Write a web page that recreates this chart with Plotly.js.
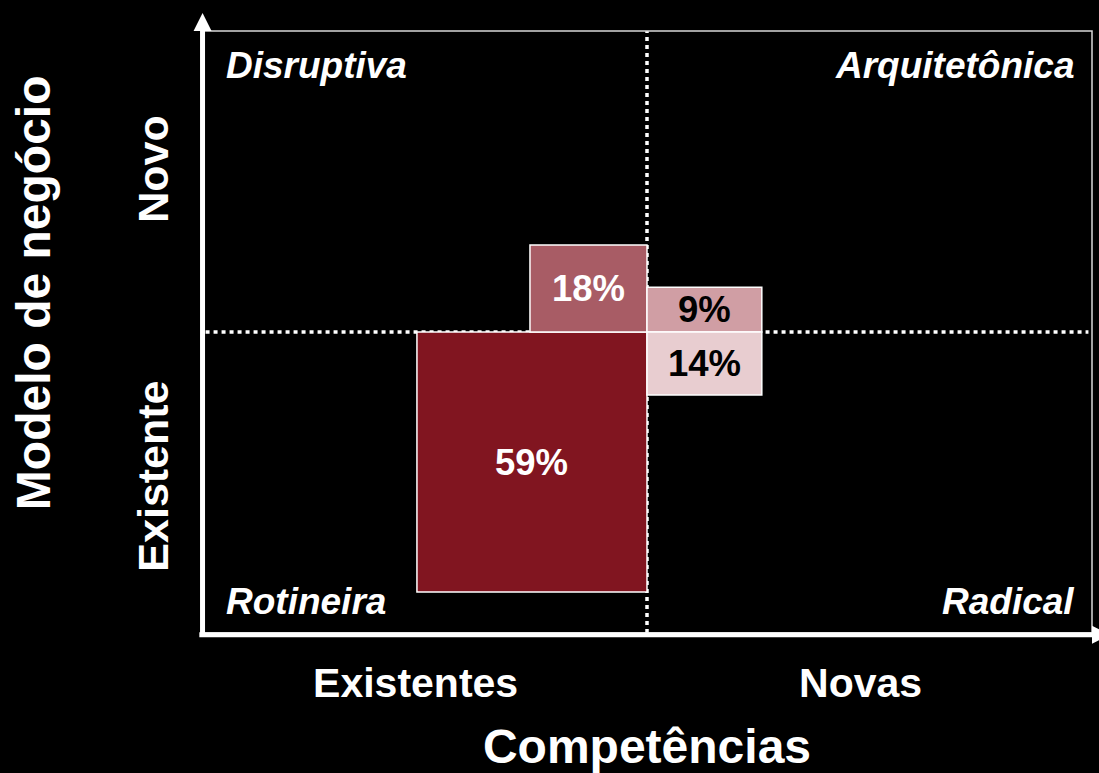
<!DOCTYPE html>
<html>
<head>
<meta charset="utf-8">
<script src="https://cdn.plot.ly/plotly-3.0.1.min.js"></script>
<style>html,body{margin:0;padding:0;background:#000;}#chart{width:1099px;height:773px;}</style>
</head>
<body>
<div id="chart"></div>
<script>
// ---- data ----
const xCategories = ['Existentes', 'Novas'];
const xCategoryPos = [0.48, 1.48];
const yCategories = ['Existente', 'Novo'];
const yCategoryPos = [0.5, 1.52];
const xTitle = 'Competências';
const yTitle = 'Modelo de negócio';
const quadrantLabels = ['Disruptiva', 'Arquitetônica', 'Rotineira', 'Radical'];
const shareLabels = ['59%', '18%', '9%', '14%'];
const boxX0 = [0.483, 0.737, 1.0, 1.0];
const boxX1 = [1.0, 1.0, 1.258, 1.258];
const boxY0 = [0.136, 1.0, 1.0, 0.791];
const boxY1 = [1.0, 1.289, 1.149, 1.0];
const boxColors = ['#811520', '#a85c65', '#d09ea4', '#e8cdd0'];
const textColors = ['#ffffff', '#ffffff', '#000000', '#000000'];

const FONT = '"Liberation Sans", Arial, sans-serif';
const shapes = [];
// dotted quadrant dividers
shapes.push({type: 'line', xref: 'x', yref: 'paper', x0: 1, x1: 1, y0: 0, y1: 1,
  line: {color: '#ffffff', width: 3.5, dash: '4px,4px'}});
shapes.push({type: 'line', xref: 'paper', yref: 'y', x0: 0.004, x1: 0.996, y0: 1, y1: 1,
  line: {color: '#ffffff', width: 3.5, dash: '4px,4px'}});
// boxes
for (let i = 0; i < shareLabels.length; i++) {
  shapes.push({type: 'rect', xref: 'x', yref: 'y', x0: boxX0[i], x1: boxX1[i], y0: boxY0[i], y1: boxY1[i],
    fillcolor: boxColors[i], line: {color: '#ffffff', width: 1.5}});
}
// plot frame (thin)
shapes.push({type: 'rect', xref: 'paper', yref: 'paper', x0: 0, x1: 1, y0: 0, y1: 1,
  line: {color: '#d8d8d8', width: 1.5}});
// thick axes
shapes.push({type: 'line', xref: 'paper', yref: 'paper', x0: -0.003, x1: 1.001, y0: -0.003, y1: -0.003,
  line: {color: '#ffffff', width: 5}});
shapes.push({type: 'line', xref: 'paper', yref: 'paper', x0: 0.0006, x1: 0.0006, y0: -0.006, y1: 1.0,
  line: {color: '#ffffff', width: 5}});
// arrowheads
shapes.push({type: 'path', xref: 'paper', yref: 'paper', xsizemode: 'pixel', ysizemode: 'pixel',
  xanchor: 1.0, yanchor: -0.003, path: 'M0,-9 L0,9 L18,0 Z', fillcolor: '#ffffff', line: {width: 0}});
shapes.push({type: 'path', xref: 'paper', yref: 'paper', xsizemode: 'pixel', ysizemode: 'pixel',
  xanchor: 0.0006, yanchor: 1.0, path: 'M-9,0 L9,0 L0,18 Z', fillcolor: '#ffffff', line: {width: 0}});

const annotations = [];
for (let i = 0; i < shareLabels.length; i++) {
  annotations.push({x: (boxX0[i] + boxX1[i]) / 2, y: (boxY0[i] + boxY1[i]) / 2, xref: 'x', yref: 'y',
    text: shareLabels[i], showarrow: false,
    font: {family: FONT, size: 36.5, color: textColors[i], weight: 'bold'}});
}
const qPos = [[0.025, 0.942, 'left'], [0.982, 0.942, 'right'], [0.025, 0.053, 'left'], [0.982, 0.053, 'right']];
for (let i = 0; i < quadrantLabels.length; i++) {
  annotations.push({x: qPos[i][0], y: qPos[i][1], xref: 'paper', yref: 'paper', xanchor: qPos[i][2], yanchor: 'middle',
    text: quadrantLabels[i], showarrow: false,
    font: {family: FONT, size: 37, color: '#ffffff', weight: 'bold', style: 'italic'}});
}
// y-axis title (placed above axis centre, as in the original)
annotations.push({x: -0.19, y: 0.566, xref: 'paper', yref: 'paper', xanchor: 'center', yanchor: 'middle',
  text: yTitle, textangle: -90, showarrow: false,
  font: {family: FONT, size: 48, color: '#ffffff', weight: 'bold'}});

const layout = {
  width: 1099, height: 773,
  paper_bgcolor: '#000000', plot_bgcolor: '#000000',
  margin: {l: 202, r: 7, t: 31, b: 140},
  showlegend: false,
  xaxis: {range: [0, 2], showgrid: false, zeroline: false, showline: false, fixedrange: true,
    tickmode: 'array', tickvals: xCategoryPos, ticktext: xCategories,
    ticks: 'outside', ticklen: 14, tickcolor: 'rgba(0,0,0,0)',
    tickfont: {family: FONT, size: 41, color: '#ffffff', weight: 'bold'},
    title: {text: xTitle, standoff: 24, font: {family: FONT, size: 48, color: '#ffffff', weight: 'bold'}}},
  yaxis: {range: [0, 2], showgrid: false, zeroline: false, showline: false, fixedrange: true,
    tickmode: 'array', tickvals: yCategoryPos, ticktext: yCategories, tickangle: -90,
    ticks: 'outside', ticklen: 16, tickcolor: 'rgba(0,0,0,0)',
    tickfont: {family: FONT, size: 43, color: '#ffffff', weight: 'bold'}},
  shapes: shapes,
  annotations: annotations
};

Plotly.newPlot('chart', [{x: [], y: [], type: 'scatter', hoverinfo: 'skip'}], layout, {displayModeBar: false, staticPlot: true});
</script>
</body>
</html>
